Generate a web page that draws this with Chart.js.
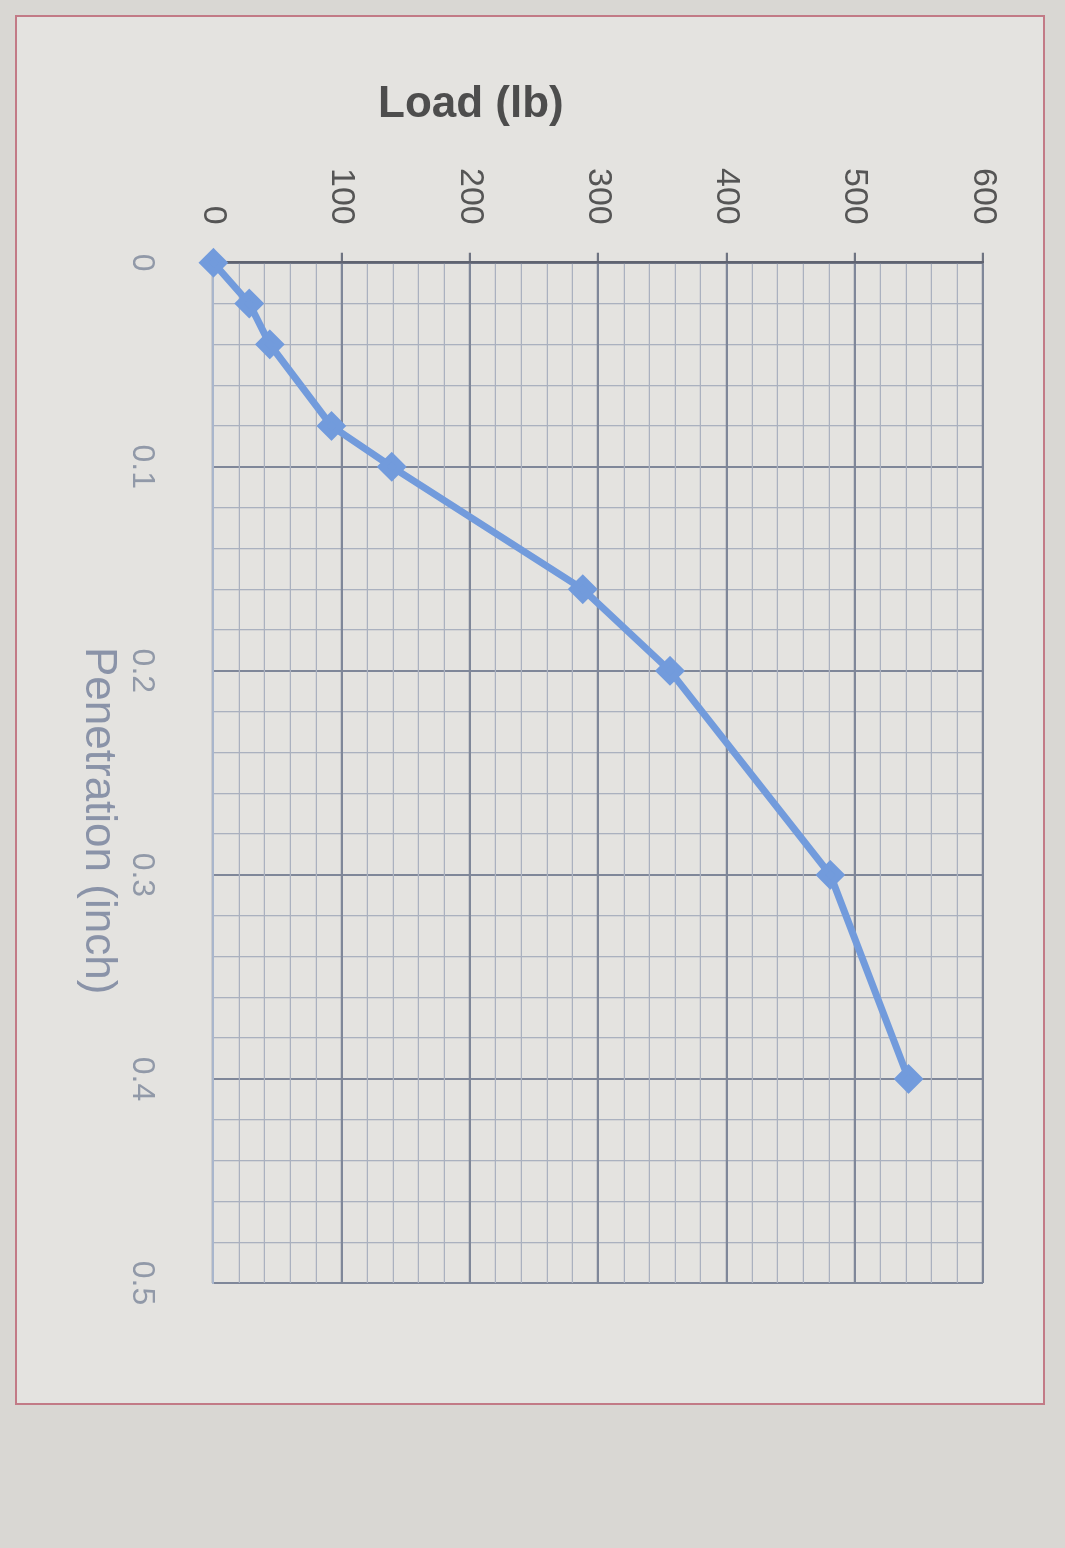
<!DOCTYPE html>
<html lang="en">
<head>
  <meta charset="UTF-8">
  <title>Load vs Penetration</title>
  <script src="https://cdn.jsdelivr.net/npm/chart.js"></script>
  <style>
    body {
      margin: 0;
      width: 1065px;
      height: 1548px;
      background-color: #d9d7d3;
      font-family: "Liberation Sans", Arial, sans-serif;
      position: relative;
      overflow: hidden;
    }
    /* the photo shows the chart turned a quarter turn clockwise */
    #frame {
      position: absolute;
      left: 15px;
      top: 15px;
      width: 1390px;
      height: 1030px;
      box-sizing: border-box;
      border: 2px solid #c27a86;
      background-color: #e4e3e0;
      transform-origin: 0 0;
      transform: translate(1030px, 0) rotate(90deg);
    }
    #frame canvas {
      position: absolute;
      left: 0;
      top: 0;
    }
    .xtitle {
      position: absolute;
      left: 630px;
      top: 920px;
      font-size: 44px;
      line-height: 1;
      color: #8a93a8;
      white-space: nowrap;
    }
    .ytitle {
      position: absolute;
      left: 378px;
      top: 80px;
      font-size: 44px;
      font-weight: bold;
      line-height: 1;
      color: #4d4d4d;
      white-space: nowrap;
    }
  </style>
</head>
<body>
  <div id="frame">
    <canvas id="cbrChart" width="1386" height="1026"></canvas>
    <div class="xtitle">Penetration (inch)</div>
  </div>
  <div class="ytitle">Load (lb)</div>

  <script>
    // values
    const penetration = [0, 0.02, 0.04, 0.08, 0.10, 0.16, 0.20, 0.30, 0.40];
    const load = [0, 28, 44, 92, 139, 288, 356, 481, 542];

    const penTicks = [0, 0.1, 0.2, 0.3, 0.4, 0.5];
    const loadTicks = [0, 100, 200, 300, 400, 500, 600];

    const majorColor = '#7f8799';
    const minorColor = '#aab1bf';

    function findMajor(v, list) {
      return list.find(t => Math.abs(t - v) < 1e-6);
    }

    const points = penetration.map((p, i) => ({ x: p, y: load[i] }));

    const ctx = document.getElementById('cbrChart').getContext('2d');
    new Chart(ctx, {
      type: 'line',
      data: {
        datasets: [{
          data: points,
          borderColor: '#729bdc',
          backgroundColor: '#729bdc',
          borderWidth: 7,
          pointStyle: 'rectRot',
          pointRadius: 10,
          tension: 0,
          fill: false,
          clip: false
        }]
      },
      options: {
        responsive: false,
        animation: false,
        layout: {
          padding: { left: 123, top: 60, right: 120, bottom: 54 }
        },
        plugins: {
          legend: { display: false },
          tooltip: { enabled: false }
        },
        scales: {
          x: {
            type: 'linear',
            min: 0,
            max: 0.5,
            ticks: {
              stepSize: 0.02,
              autoSkip: false,
              maxRotation: 0,
              padding: 52,
              color: '#9199a8',
              font: { family: '"Liberation Sans", Arial, sans-serif', size: 32 },
              callback: v => {
                const t = findMajor(v, penTicks);
                return t === undefined ? '' : String(t);
              }
            },
            grid: {
              drawTicks: false,
              color: c => (c.tick && findMajor(c.tick.value, penTicks) !== undefined) ? majorColor : minorColor,
              lineWidth: c => (c.tick && findMajor(c.tick.value, penTicks) !== undefined) ? 2 : 1.3
            },
            border: { color: '#a9b6cc', width: 2 }
          },
          y: {
            type: 'linear',
            min: 0,
            max: 600,
            ticks: {
              stepSize: 20,
              autoSkip: false,
              padding: 28,
              color: '#555555',
              font: { family: '"Liberation Sans", Arial, sans-serif', size: 34 },
              callback: v => {
                const t = findMajor(v, loadTicks);
                return t === undefined ? '' : String(t);
              }
            },
            grid: {
              drawTicks: true,
              tickLength: 10,
              tickColor: c => (c.tick && findMajor(c.tick.value, loadTicks) !== undefined) ? '#6f7482' : 'rgba(0,0,0,0)',
              color: c => (c.tick && findMajor(c.tick.value, loadTicks) !== undefined) ? majorColor : minorColor,
              lineWidth: c => (c.tick && findMajor(c.tick.value, loadTicks) !== undefined) ? 2.2 : 1.3
            },
            border: { color: '#5f6370', width: 2.5 }
          }
        }
      }
    });
  </script>
</body>
</html>
